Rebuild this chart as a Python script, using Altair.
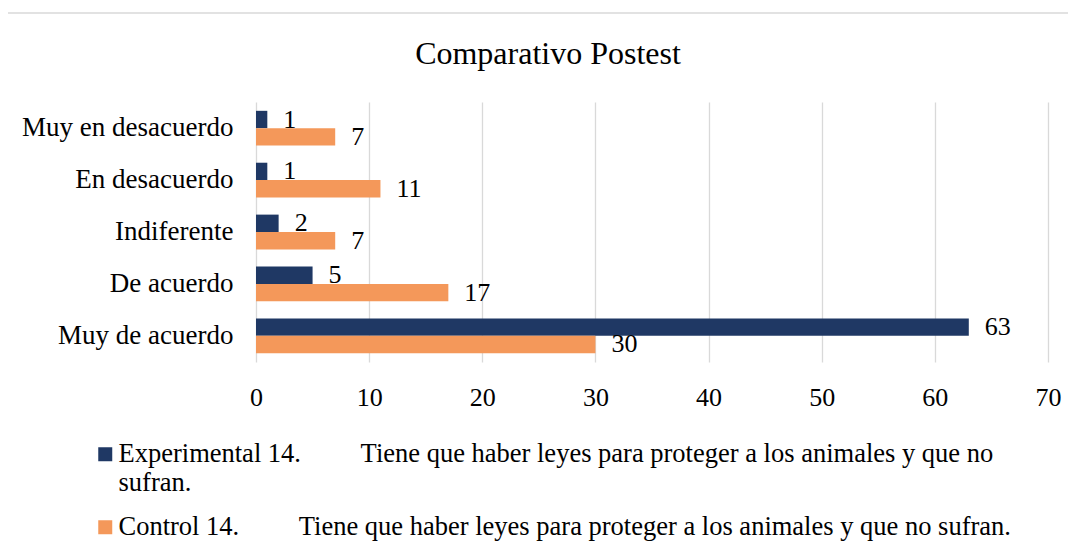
import altair as alt
import pandas as pd

categories = ["Muy en desacuerdo", "En desacuerdo", "Indiferente", "De acuerdo", "Muy de acuerdo"]
experimental = [1, 1, 2, 5, 63]
control = [7, 11, 7, 17, 30]
NB = "\u00a0"
series_names = [
    "Experimental 14." + NB * 9 + "Tiene que haber leyes para proteger a los animales y que no|sufran.",
    "Control 14." + NB * 9 + "Tiene que haber leyes para proteger a los animales y que no sufran.",
]
title_text = "Comparativo Postest"

rows = []
for c, e, k in zip(categories, experimental, control):
    rows.append({"cat": c, "serie": series_names[0], "order": 0, "valor": e})
    rows.append({"cat": c, "serie": series_names[1], "order": 1, "valor": k})
df = pd.DataFrame(rows)

FONT = "Liberation Serif"
colors = ["#1F3864", "#F4985A"]

y_enc = alt.Y("cat:N", sort=categories, title=None,
              scale=alt.Scale(paddingInner=0.33, paddingOuter=0.17),
              axis=alt.Axis(labelFontSize=27, labelFont=FONT, labelColor="#000000",
                            ticks=False, domain=False, labelPadding=23, labelLimit=400))
yoff = alt.YOffset("order:O", sort=[0, 1])

base = alt.Chart(df)

bars = base.mark_bar().encode(
    x=alt.X("valor:Q", title=None, scale=alt.Scale(domain=[0, 70]),
            axis=alt.Axis(values=list(range(0, 71, 10)), labelFontSize=26, labelFont=FONT,
                          labelColor="#000000", ticks=False, domain=False, labelPadding=22,
                          labelFlush=False,
                          grid=True, gridColor="#D9D9D9", gridWidth=1.3)),
    y=y_enc,
    yOffset=yoff,
    color=alt.Color("serie:N", sort=series_names,
                    scale=alt.Scale(domain=series_names, range=colors),
                    legend=alt.Legend(title=None, orient="none", legendX=-164, legendY=339,
                                      direction="vertical", symbolType="square", symbolSize=196,
                                      symbolStrokeWidth=0, labelFontSize=26.5, labelFont=FONT,
                                      labelColor="#000000", labelOffset=0, labelLimit=1200,
                                      rowPadding=17, padding=0,
                                      labelExpr="split(datum.label, '|')")),
)

labels = base.mark_text(align="left", baseline="middle", dx=16, fontSize=26, font=FONT,
                        color="#000000").encode(
    x="valor:Q",
    y=alt.Y("cat:N", sort=categories),
    yOffset=yoff,
    text="valor:Q",
)

border = alt.Chart(pd.DataFrame({"a": [0]})).mark_rect(
    fill=None, stroke="#D9D9D9", strokeWidth=1.5).encode(
    x=alt.value(-253), x2=alt.value(830), y=alt.value(-89), y2=alt.value(460))

title = alt.Chart(pd.DataFrame({"t": [title_text]})).mark_text(
    fontSize=32, font=FONT, color="#000000", align="center", baseline="middle").encode(
    text="t:N", x=alt.value(292), y=alt.value(-48))

chart = alt.layer(border, bars, labels, title).properties(
    width=792, height=260,
    autosize=alt.AutoSizeParams(type="none"),
    padding={"left": 248, "top": 94, "right": 20, "bottom": 180},
).configure(background="white").configure_view(stroke=None)

chart.save("out.html", embed_options={"renderer": "svg", "actions": False})
